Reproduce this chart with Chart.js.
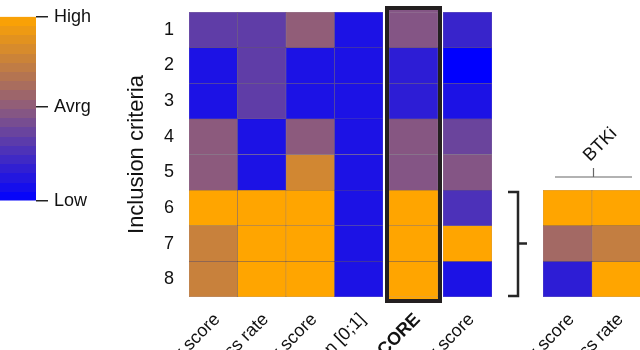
<!DOCTYPE html>
<html><head><meta charset="utf-8">
<script src="https://cdn.jsdelivr.net/npm/chart.js@4"></script>
<style>
html,body{margin:0;padding:0;background:#fff;overflow:hidden;width:640px;height:350px;}
.layer{position:absolute;left:0;top:0;width:640px;height:350px;}
#wD{width:642px;}
</style></head><body>
<div class="layer" id="wE"><canvas id="cE"></canvas></div>
<div class="layer" id="wA"><canvas id="cA"></canvas></div>
<div class="layer" id="wB"><canvas id="cB"></canvas></div>
<div class="layer" id="wC"><canvas id="cC"></canvas></div>
<div class="layer" id="wD"><canvas id="cD"></canvas></div>
<script>
// ---------- data (normalised 0 = Low, 0.5 = Avrg, 1 = High) ----------
const rowLabels = ['1','2','3','4','5','6','7','8'];
const colLabelsMain = ['Efficacy score','Success rate','Safety score','Normalization [0;1]'];
const colLabelTotal = ['TOTAL SCORE'];
const colLabelTox = ['Toxicity score'];
const efficacyScore = [0.34, 0.10, 0.10, 0.50, 0.50, 1.00, 0.76, 0.76];
const successRate   = [0.34, 0.34, 0.34, 0.10, 0.10, 1.00, 1.00, 1.00];
const safetyScore   = [0.52, 0.10, 0.10, 0.50, 0.80, 1.00, 1.00, 1.00];
const normalized01  = [0.10, 0.10, 0.10, 0.10, 0.10, 0.10, 0.10, 0.10];
const totalScore    = [0.47, 0.16, 0.16, 0.48, 0.47, 1.00, 1.00, 1.00];
const toxicityScore = [0.20, 0.00, 0.10, 0.38, 0.47, 0.27, 1.00, 0.10];
const btkiRowLabels = ['6','7','8'];
const colLabelsBtki = ['Efficacy score','Success rate'];
const btkiEfficacy  = [1.00, 0.60, 0.16];
const btkiSuccess   = [1.00, 0.74, 1.00];
const legendTickValues = [0, 0.51, 1];
const legendTickLabels = ['Low','Avrg','High'];
const groupLabel = 'BTKi';
const yTitle = 'Inclusion criteria';

// ---------- styling ----------
Chart.defaults.font.family = "'Liberation Sans', Arial, Helvetica, sans-serif";
Chart.defaults.color = '#111';
Chart.defaults.animation = false;
Chart.defaults.plugins.legend.display = false;
Chart.defaults.plugins.tooltip.enabled = false;

const STOPS = [[0,[0,0,255]],[0.5,[140,90,125]],[1,[255,165,0]]];
function cmap(v){
  v = Math.max(0, Math.min(1, v));
  for (let i = 1; i < STOPS.length; i++) {
    if (v <= STOPS[i][0]) {
      const [a, ca] = STOPS[i-1], [b, cb] = STOPS[i];
      const t = (v - a) / (b - a);
      const c = ca.map((x, k) => Math.round(x + (cb[k] - x) * t));
      return `rgb(${c[0]},${c[1]},${c[2]})`;
    }
  }
}

function heatmap(id, labels, columns, rows, padding, opts = {}) {
  const datasets = rows.map((r, i) => ({
    label: r,
    data: columns.map(() => 1),
    backgroundColor: columns.map(col => cmap(col[i])),
    borderColor: 'rgba(45,25,55,0.55)',
    borderWidth: 0.5,
    borderSkipped: false,
    barPercentage: 1,
    categoryPercentage: 1
  }));
  const scales = {
    x: {
      stacked: true,
      grid: {display: false}, border: {display: false},
      ticks: {autoSkip: false, maxRotation: 45, minRotation: 45, padding: 4, labelOffset: 4,
              font: {size: 18, weight: opts.bold ? 'bold' : 'normal'}, color: '#111'},
      afterFit: s => { s.height = 53; s.paddingLeft = 0; s.paddingRight = 0; }
    },
    y: {stacked: true, min: 0, max: rows.length, reverse: true, display: false}
  };
  if (opts.yLabels) {
    scales.yLab = {
      type: 'category', labels: rows, position: 'left', offset: true,
      grid: {display: false}, border: {display: false},
      ticks: {padding: 7, font: {size: 18}, color: '#111'},
      title: {display: true, text: yTitle, font: {size: 22}, color: '#111'},
      afterFit: s => { s.width = 69; s.paddingTop = 0; s.paddingBottom = 0; }
    };
  }
  return new Chart(document.getElementById(id), {
    type: 'bar',
    data: {labels, datasets},
    options: {responsive: true, maintainAspectRatio: false, layout: {padding}, scales},
    plugins: opts.plugins || []
  });
}

const boxPlugin = {
  id: 'box',
  afterDatasetsDraw(chart) {
    const {ctx, chartArea: a} = chart;
    const ds = chart.data.datasets;
    ctx.save();
    ctx.fillStyle = ds[0].backgroundColor[0];
    ctx.fillRect(a.left, a.top - 2, a.right - a.left, 2);
    ctx.fillStyle = ds[ds.length - 1].backgroundColor[0];
    ctx.fillRect(a.left, a.bottom, a.right - a.left, 2);
    ctx.strokeStyle = '#231f20';
    ctx.lineWidth = 4;
    ctx.strokeRect(a.left - 2, a.top - 4, a.right - a.left + 4, a.bottom - a.top + 8);
    ctx.restore();
  }
};

const groupPlugin = {
  id: 'group',
  afterDraw(chart) {
    const {ctx, chartArea: a} = chart;
    ctx.save();
    // bracket
    ctx.strokeStyle = '#262626';
    ctx.lineWidth = 2.5;
    const bx = a.left - 25;
    ctx.beginPath();
    ctx.moveTo(bx - 10, a.top + 2); ctx.lineTo(bx, a.top + 2);
    ctx.lineTo(bx, a.bottom - 1); ctx.lineTo(bx - 10, a.bottom - 1);
    ctx.stroke();
    const mid = (a.top + a.bottom) / 2;
    ctx.beginPath(); ctx.moveTo(bx, mid); ctx.lineTo(bx + 9, mid); ctx.stroke();
    // group line
    ctx.strokeStyle = '#666';
    ctx.lineWidth = 1.2;
    const ly = a.top - 13, lx0 = a.left + 12, lx1 = a.left + 89, lc = (lx0 + lx1) / 2;
    ctx.beginPath();
    ctx.moveTo(lx0, ly); ctx.lineTo(lx1, ly);
    ctx.moveTo(lc, ly); ctx.lineTo(lc, ly - 9);
    ctx.stroke();
    // label
    ctx.translate(a.left + 47, a.top - 28);
    ctx.rotate(-Math.PI / 4);
    ctx.fillStyle = '#111';
    ctx.font = "18px 'Liberation Sans', Arial, sans-serif";
    ctx.textAlign = 'left';
    ctx.textBaseline = 'alphabetic';
    ctx.fillText(groupLabel, 0, 0);
    ctx.restore();
  }
};

heatmap('cA', colLabelsMain, [efficacyScore, successRate, safetyScore, normalized01], rowLabels,
        {left: 120, right: 257, top: 12, bottom: 0}, {yLabels: true});
heatmap('cB', colLabelTotal, [totalScore], rowLabels,
        {left: 389, right: 202, top: 12, bottom: 0}, {bold: true, plugins: [boxPlugin]});
heatmap('cC', colLabelTox, [toxicityScore], rowLabels,
        {left: 443, right: 148, top: 12, bottom: 0});
heatmap('cD', colLabelsBtki, [btkiEfficacy, btkiSuccess], btkiRowLabels,
        {left: 543, right: 1, top: 190, bottom: 0}, {plugins: [groupPlugin]});

// colour scale legend
const N_BANDS = 20;
new Chart(document.getElementById('cE'), {
  type: 'bar',
  data: {labels: [''], datasets: [{
    data: [[legendTickValues[0], legendTickValues[legendTickValues.length - 1]]],
    backgroundColor: (c) => {
      const ch = c.chart, a = ch.chartArea;
      if (!a) return 'rgba(0,0,0,0)';
      const g = ch.ctx.createLinearGradient(0, a.bottom, 0, a.top);
      for (let i = 0; i < N_BANDS; i++) {
        const col = cmap((i + 0.5) / N_BANDS);
        g.addColorStop(i / N_BANDS, col);
        g.addColorStop((i + 1) / N_BANDS, col);
      }
      return g;
    },
    borderWidth: 0, barPercentage: 1, categoryPercentage: 1
  }]},
  options: {
    responsive: true, maintainAspectRatio: false,
    layout: {padding: {left: 0, right: 504, top: 12, bottom: 149}},
    scales: {
      x: {display: false},
      y: {
        position: 'right', min: 0, max: 1,
        grid: {display: true, drawOnChartArea: false, drawTicks: true, tickLength: 12, color: '#222', lineWidth: 1.5},
        border: {display: false},
        ticks: {padding: 6, font: {size: 18}, color: '#111', callback: (v, i) => legendTickLabels[i]},
        afterBuildTicks: s => { s.ticks = legendTickValues.map(v => ({value: v})); },
        afterFit: s => { s.width = 100; }
      }
    }
  }
});
</script>
</body></html>
